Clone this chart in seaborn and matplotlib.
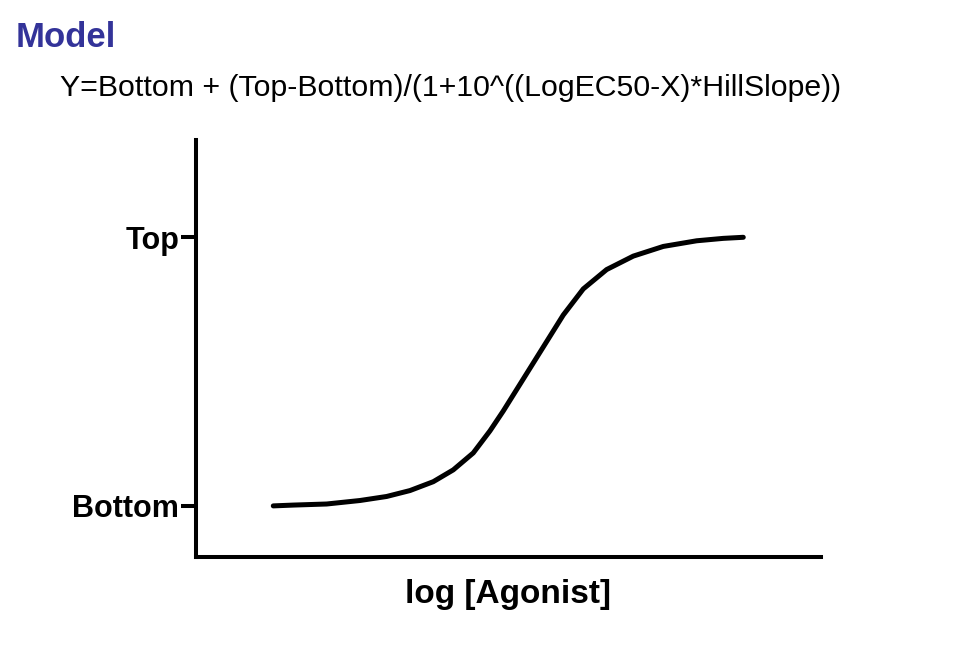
import pandas as pd
import seaborn as sns
import matplotlib.pyplot as plt

# points (x: arbitrary log units, y: 0 = Bottom, 1 = Top)
log_agonist = [1.237, 1.557, 2.091, 2.624, 3.051, 3.424, 3.797, 4.117, 4.437, 4.704, 4.917,
               5.237, 5.557, 5.877, 6.197, 6.571, 6.997, 7.477, 8.011, 8.437, 8.757]
response = [0.0, 0.003, 0.007, 0.020, 0.035, 0.057, 0.090, 0.134, 0.197, 0.279, 0.353,
            0.472, 0.591, 0.710, 0.807, 0.879, 0.929, 0.965, 0.986, 0.995, 0.999]
tick_values = [0, 1]
tick_labels = ["Bottom", "Top"]

title = "Model"
equation = "Y=Bottom + (Top-Bottom)/(1+10^((LogEC50-X)*HillSlope))"
xlabel = "log [Agonist]"

df = pd.DataFrame({"x": log_agonist, "y": response})

sns.set_style("ticks")
plt.rcParams["font.family"] = ["Liberation Sans", "DejaVu Sans"]
plt.rcParams["text.color"] = "black"
plt.rcParams["axes.labelcolor"] = "black"
plt.rcParams["ytick.color"] = "black"

fig = plt.figure(figsize=(9.62, 6.70), dpi=100)
ax = fig.add_axes([0.2037, 0.1687, 0.6497, 0.6224])

sns.lineplot(data=df, x="x", y="y", color="black", linewidth=3.6, ax=ax)
ax.lines[0].set_solid_capstyle("round")
ax.lines[0].set_solid_joinstyle("round")

ax.set_xlim(0, 10)
ax.set_ylim(-0.19, 1.361)
sns.despine(ax=ax)
for side in ["left", "bottom"]:
    ax.spines[side].set_linewidth(2.9)
    ax.spines[side].set_color("black")

ax.set_xticks([])
ax.set_yticks(tick_values)
ax.set_yticklabels(tick_labels, fontsize=22, fontweight="bold")
ax.tick_params(axis="y", length=11, width=2.9, pad=1, color="black", labelcolor="black")

ax.set_xlabel(xlabel, fontsize=24, fontweight="bold", labelpad=16)
ax.set_ylabel("")

fig.text(0.016, 0.930, title, fontsize=25, fontweight="bold", color="#333399", ha="left", va="baseline")
fig.text(0.062, 0.856, equation, fontsize=21.8, ha="left", va="baseline")

plt.savefig("out.png", dpi=100)
